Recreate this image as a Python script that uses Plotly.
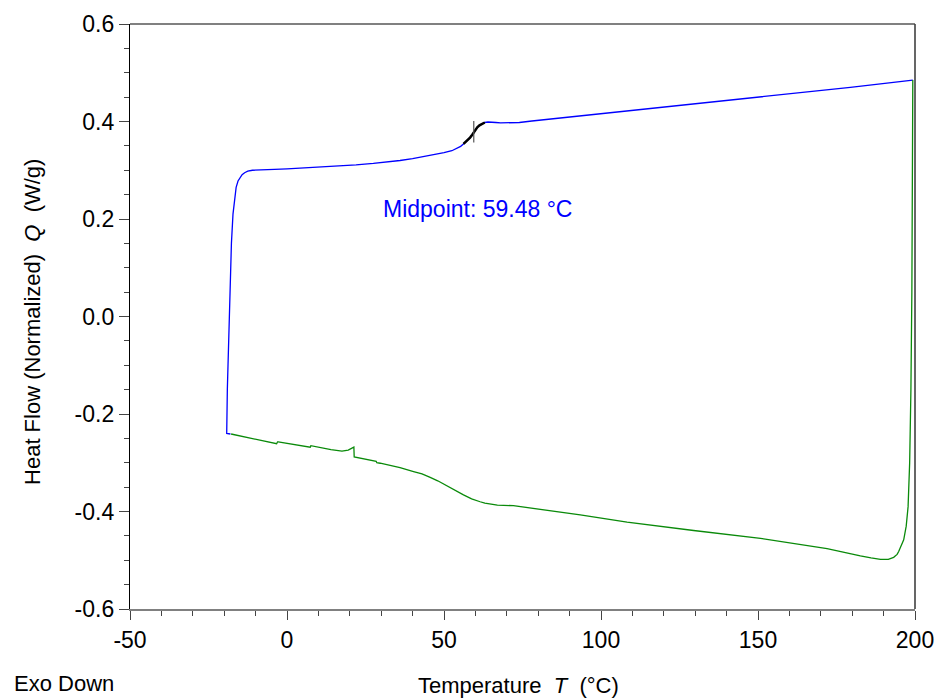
import plotly.graph_objects as go

# Heating curve (blue)
heat_x = [-18.0, -19.2, -19.0, -18.6, -18.2, -17.7, -17.2, -16.7, -16.2, -15.6, -15.0, -14.3, -13.5, -12.5,
          -11.0, -8.6, -4.0, 0.0, 6.3, 15.0, 22.0, 27.5, 32.0, 36.0, 40.0, 43.5, 47.0, 50.0, 52.5, 54.1,
          55.3, 56.2, 57.3, 58.3, 59.0, 59.5, 60.0, 60.6, 61.3, 62.0, 63.0, 64.0, 65.0, 66.5, 68.0, 70.0,
          72.0, 74.0, 78.0, 84.0, 100.0, 115.7, 147.6, 179.4, 199.3]
heat_y = [-0.241, -0.240, -0.150, -0.050, 0.050, 0.150, 0.210, 0.245, 0.265, 0.278, 0.285, 0.291, 0.295, 0.298,
          0.300, 0.301, 0.302, 0.303, 0.305, 0.308, 0.311, 0.314, 0.317, 0.320, 0.324, 0.328, 0.332, 0.336, 0.340, 0.345,
          0.349, 0.354, 0.360, 0.367, 0.373, 0.378, 0.383, 0.388, 0.392, 0.395, 0.398, 0.399, 0.399, 0.398, 0.397, 0.397,
          0.397, 0.398, 0.401, 0.405, 0.416, 0.427, 0.448, 0.470, 0.485]

# Cooling curve (green)
cool_x = [199.3, 199.2, 199.0, 198.7, 198.3, 197.8, 197.2, 196.4, 195.5, 194.8, 194.3, 193.2, 191.5, 189.0,
          186.0, 182.6, 172.0, 150.8, 129.5, 108.3, 93.4, 82.8, 77.0, 72.1, 67.0, 64.7, 63.0, 61.5, 58.8,
          56.2, 53.5, 50.9, 48.0, 45.6, 43.0, 40.3, 36.0, 29.7, 28.6, 28.4, 21.4, 21.3, 20.8, 19.5, 17.5,
          14.0, 7.6, 7.4, -2.8, -3.0, -3.3, -17.8]
cool_y = [0.485, 0.300, 0.050, -0.150, -0.300, -0.390, -0.430, -0.458, -0.474, -0.482, -0.488, -0.494, -0.498, -0.498,
          -0.495, -0.491, -0.476, -0.455, -0.439, -0.422, -0.407, -0.397, -0.392, -0.388, -0.387, -0.385, -0.383, -0.380, -0.374,
          -0.366, -0.356, -0.346, -0.337, -0.330, -0.323, -0.318, -0.310, -0.301, -0.300, -0.297, -0.288, -0.268, -0.270, -0.274, -0.276,
          -0.273, -0.265, -0.268, -0.257, -0.257, -0.261, -0.241]

tg_mid = 59.48
tg_range = [56.2, 63.8]
tg_tick_y = [0.357, 0.401]
label_text = "Midpoint: 59.48 °C"

x_ticks = [-50, 0, 50, 100, 150, 200]
x_ticklabels = ["-50", "0", "50", "100", "150", "200"]
y_ticks = [0.6, 0.4, 0.2, 0.0, -0.2, -0.4, -0.6]
y_ticklabels = ["0.6", "0.4", "0.2", "0.0", "-0.2", "-0.4", "-0.6"]
x_title = "Temperature  <i>T</i>  (°C)"
y_title = "Heat Flow (Normalized)  <i>Q</i>  (W/g)"

FONT = "Liberation Sans, Arial, sans-serif"

fig = go.Figure()
fig.add_trace(go.Scatter(x=heat_x, y=heat_y, mode="lines", line=dict(color="#0000ff", width=1.3),
                         showlegend=False, hoverinfo="skip"))
fig.add_trace(go.Scatter(x=cool_x, y=cool_y, mode="lines", line=dict(color="#0a8a0a", width=1.3),
                         showlegend=False, hoverinfo="skip"))
seg = [(x, y) for x, y in zip(heat_x, heat_y) if tg_range[0] <= x <= tg_range[1]]
fig.add_trace(go.Scatter(x=[p[0] for p in seg], y=[p[1] for p in seg], mode="lines",
                         line=dict(color="black", width=2.5), showlegend=False, hoverinfo="skip"))
fig.add_trace(go.Scatter(x=[tg_mid, tg_mid], y=tg_tick_y, mode="lines",
                         line=dict(color="#555555", width=1.2), showlegend=False, hoverinfo="skip"))

fig.add_annotation(x=60.6, y=0.221, text=label_text, showarrow=False,
                   font=dict(family=FONT, size=23, color="#0000ff"), xanchor="center", yanchor="middle")
fig.add_annotation(xref="paper", yref="paper", x=-0.1503, y=-0.1265, text="Exo Down", showarrow=False,
                   font=dict(family=FONT, size=22, color="black"), xanchor="left", yanchor="middle")
fig.add_annotation(xref="paper", yref="paper", x=0.4955, y=-0.1316, text=x_title, showarrow=False,
                   font=dict(family=FONT, size=22, color="black"), xanchor="center", yanchor="middle")
fig.add_annotation(xref="paper", yref="paper", x=-0.1236, y=0.4906, text=y_title, showarrow=False,
                   textangle=-90, font=dict(family=FONT, size=22, color="black"),
                   xanchor="center", yanchor="middle")

# frame: top grey, right dark grey
fig.add_shape(type="line", xref="paper", yref="paper", x0=0, x1=1, y0=1, y1=1,
              line=dict(color="#808080", width=2))
fig.add_shape(type="line", xref="paper", yref="paper", x0=1, x1=1, y0=0, y1=1,
              line=dict(color="#404040", width=1.6))

fig.update_layout(
    width=940, height=700,
    margin=dict(l=130, r=25, t=24, b=91, autoexpand=False),
    plot_bgcolor="white", paper_bgcolor="white",
    font=dict(family=FONT, size=22, color="black"),
    xaxis=dict(range=[-50, 200], tickvals=x_ticks, ticktext=x_ticklabels, ticks="outside", ticklen=9, tickwidth=1.2,
               tickcolor="#444444", showline=True, linecolor="#808080", linewidth=2,
               showgrid=False, zeroline=False, automargin=False,
               minor=dict(dtick=10, ticks="outside", ticklen=5, tickcolor="#444444", showgrid=False),
               tickfont=dict(size=23)),
    yaxis=dict(range=[-0.6, 0.6], tickvals=y_ticks, ticktext=y_ticklabels, ticks="outside", ticklen=10,
               tickwidth=1.2, tickcolor="#444444", showline=True, linecolor="black", linewidth=1.3,
               showgrid=False, zeroline=False, automargin=False,
               minor=dict(dtick=0.05, tick0=0, ticks="outside", ticklen=5, tickcolor="#444444", showgrid=False),
               tickfont=dict(size=23)),
)

fig.write_html("out.html")
